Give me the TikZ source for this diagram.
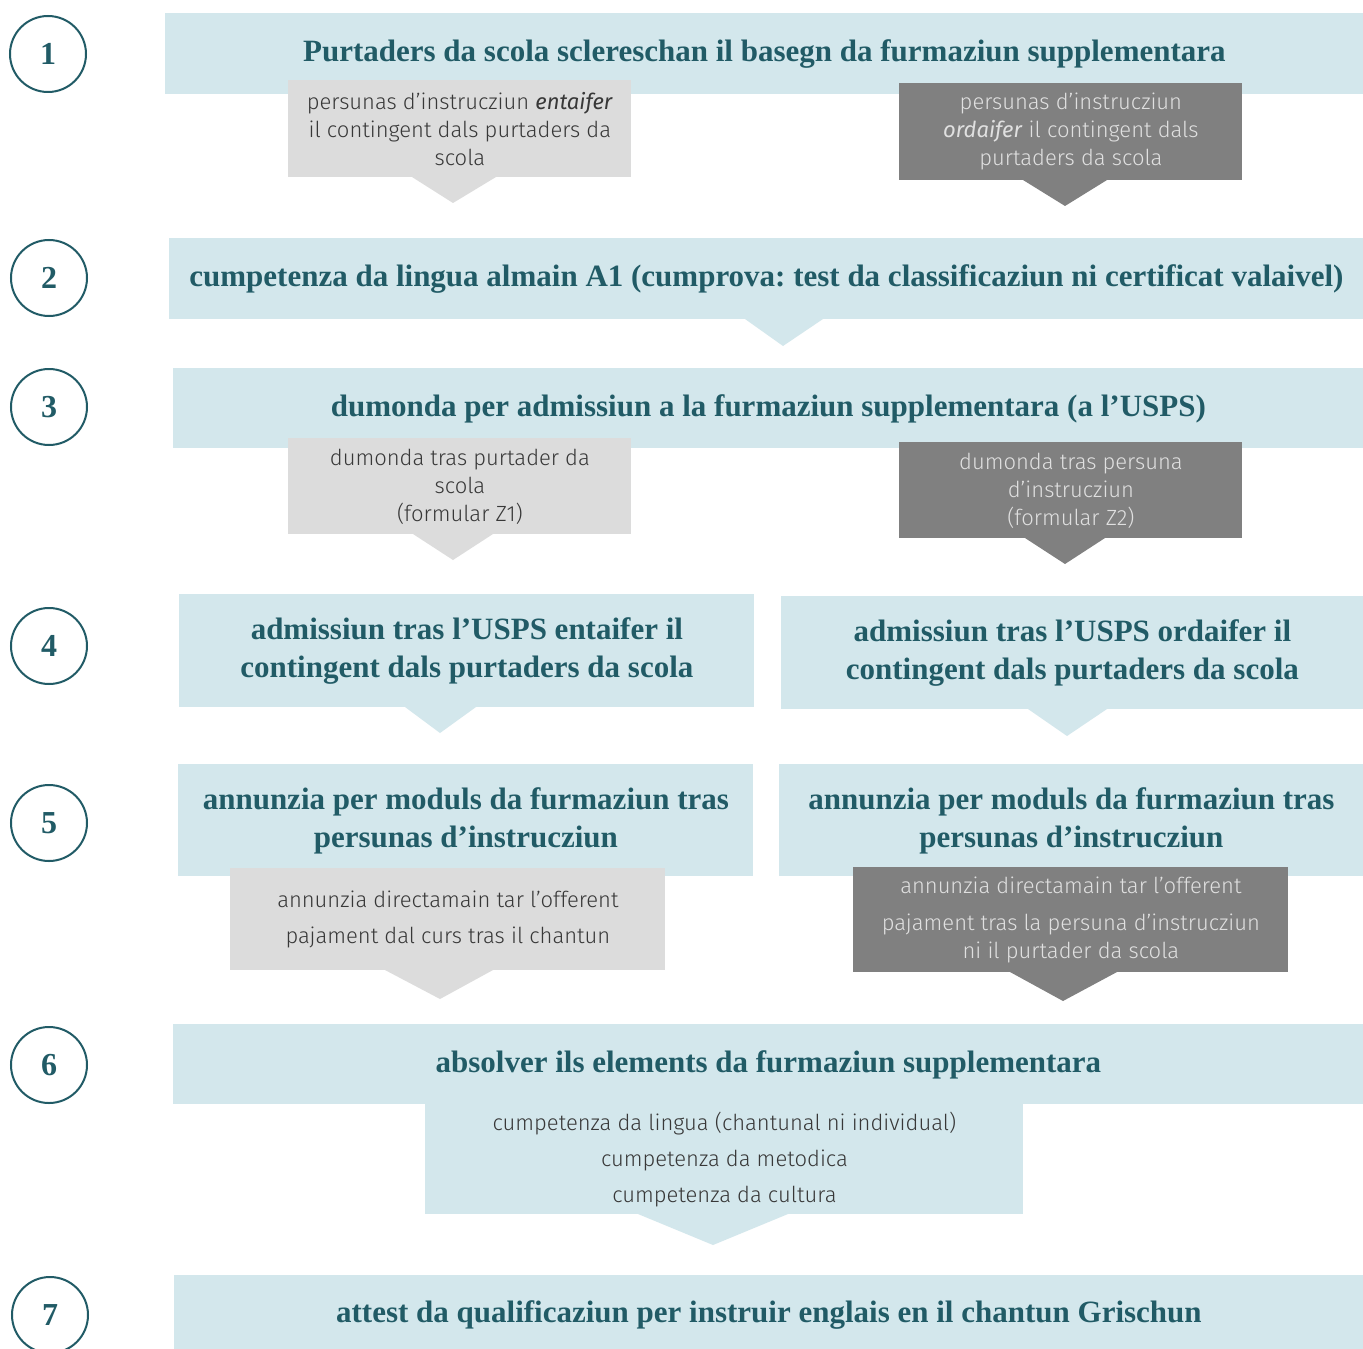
\documentclass[tikz,border=0pt]{standalone}
\usepackage{fontspec}
\setmainfont{Liberation Serif}
\newfontfamily\futura{Fira Sans Light}[ItalicFont={Fira Sans Italic}]
\frenchspacing
\definecolor{lightblue}{HTML}{D3E7EC}
\definecolor{petrol}{HTML}{215B66}
\definecolor{greylight}{HTML}{DCDCDC}
\definecolor{greydark}{HTML}{808080}
\tikzset{
  bluebox/.style={fill=lightblue, inner sep=0pt, anchor=north west, align=center,
    text=petrol, font=\bfseries\fontsize{15.5}{19}\selectfont},
  lightbox/.style={fill=greylight, inner sep=0pt, anchor=north west, align=center,
    text=black!78, font=\futura\fontsize{11}{14}\selectfont},
  darkbox/.style={fill=greydark, inner sep=0pt, anchor=north west, align=center,
    text=white!88!black, font=\futura\fontsize{11}{14}\selectfont},
  numcircle/.style={circle, draw=petrol, line width=1pt, minimum size=38pt, inner sep=0pt,
    text=petrol, font=\bfseries\fontsize{16}{19}\selectfont},
}
\begin{document}
\begin{tikzpicture}[x=0.5pt,y=-0.5pt]
  \clip (0,0) rectangle (1363,1348);
  \fill[white] (0,0) rectangle (1363,1348);

  % step numbers
  \node[numcircle] (n1) at (48,54) {1};
  \node[numcircle] (n2) at (49,278) {2};
  \node[numcircle] (n3) at (49,407) {3};
  \node[numcircle] (n4) at (49,646) {4};
  \node[numcircle] (n5) at (49,823) {5};
  \node[numcircle] (n6) at (49,1065) {6};
  \node[numcircle] (n7) at (50,1315) {7};

  % 1
  \node[bluebox, minimum width=599pt, minimum height=40.5pt] (b1) at (165,13)
    {Purtaders da scola sclereschan il basegn da furmaziun supplementara};
  \node[lightbox, minimum width=171.5pt, minimum height=48.5pt] (g1a) at (288,80)
    {persunas d’instrucziun \textit{entaifer}\\ il contingent dals purtaders da\\ scola};
  \fill[greylight] (412,177) -- (453,203) -- (496,177) -- cycle;
  \node[darkbox, minimum width=171.5pt, minimum height=48.5pt] (g1b) at (899,83)
    {persunas d’instrucziun\\ \textit{ordaifer} il contingent dals\\ purtaders da scola};
  \fill[greydark] (1023,180) -- (1065,206) -- (1107,180) -- cycle;

  % 2
  \node[bluebox, minimum width=597pt, minimum height=40.5pt] (b2) at (169,238)
    {cumpetenza da lingua almain A1 (cumprova: test da classificaziun ni certificat valaivel)};
  \fill[lightblue] (745,319) -- (783,346) -- (823,319) -- cycle;

  % 3
  \node[bluebox, minimum width=595pt, minimum height=40pt] (b3) at (173,368)
    {dumonda per admissiun a la furmaziun supplementara (a l’USPS)};
  \node[lightbox, minimum width=171.5pt, minimum height=48pt] (g3a) at (288,438)
    {dumonda tras purtader da\\ scola\\ (formular Z1)};
  \fill[greylight] (413,534) -- (453,560) -- (493,534) -- cycle;
  \node[darkbox, minimum width=171.5pt, minimum height=48pt] (g3b) at (899,442)
    {dumonda tras persuna\\ d’instrucziun\\ (formular Z2)};
  \fill[greydark] (1025,538) -- (1065,564) -- (1105,538) -- cycle;

  % 4
  \node[bluebox, minimum width=287.5pt, minimum height=56.5pt] (b4a) at (179,594)
    {admissiun tras l’USPS entaifer il\\ contingent dals purtaders da scola};
  \fill[lightblue] (405,707) -- (440,733) -- (476,707) -- cycle;
  \node[bluebox, minimum width=291pt, minimum height=56.5pt] (b4b) at (781,596)
    {admissiun tras l’USPS ordaifer il\\ contingent dals purtaders da scola};
  \fill[lightblue] (1028,709) -- (1067,736) -- (1107,709) -- cycle;

  % 5
  \node[bluebox, minimum width=287.5pt, minimum height=56pt] (b5a) at (178,764)
    {annunzia per moduls da furmaziun tras\\ persunas d’instrucziun};
  \node[bluebox, minimum width=292pt, minimum height=56pt] (b5b) at (779,764)
    {annunzia per moduls da furmaziun tras\\ persunas d’instrucziun};
  \node[lightbox, minimum width=217.5pt, minimum height=51pt] (g5a) at (230,868)
    {annunzia directamain tar l’offerent\\[4pt] pajament dal curs tras il chantun};
  \fill[greylight] (385,970) -- (440,999) -- (493,970) -- cycle;
  \node[darkbox, minimum width=217.5pt, minimum height=52.5pt] (g5b) at (853,867)
    {annunzia directamain tar l’offerent\\[4.5pt] pajament tras la persuna d’instrucziun\\ ni il purtader da scola};
  \fill[greydark] (1010,972) -- (1063,1001) -- (1117,972) -- cycle;

  % 6
  \node[bluebox, minimum width=595pt, minimum height=40pt] (b6) at (173,1024)
    {absolver ils elements da furmaziun supplementara};
  \node[lightbox, fill=lightblue, minimum width=299pt, minimum height=55pt] (b6s) at (425,1104)
    {cumpetenza da lingua (chantunal ni individual)\\[4pt] cumpetenza da metodica\\[4pt] cumpetenza da cultura};
  \fill[lightblue] (638,1214) -- (713,1245) -- (788,1214) -- cycle;

  % 7
  \node[bluebox, minimum width=594.5pt, minimum height=40pt] (b7) at (174,1275)
    {attest da qualificaziun per instruir englais en il chantun Grischun};
\end{tikzpicture}
\end{document}
